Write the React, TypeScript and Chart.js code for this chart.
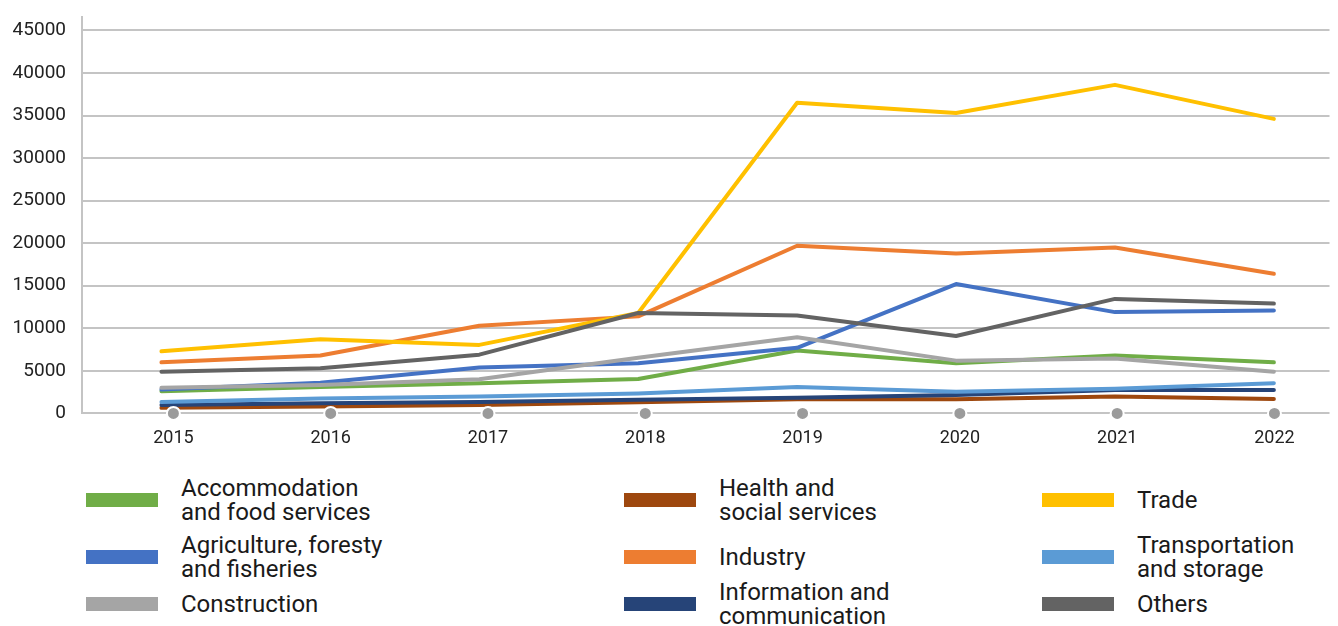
import React, { useEffect, useRef } from "react";
import { Chart, registerables } from "chart.js";

Chart.register(...registerables);

const years = ["2015", "2016", "2017", "2018", "2019", "2020", "2021", "2022"];

const accommodation = [2600, 3100, 3550, 4050, 7400, 5900, 6800, 6000];
const agriculture = [2800, 3600, 5400, 5900, 7700, 15200, 11900, 12100];
const construction = [3000, 3350, 4000, 6550, 8950, 6200, 6450, 4900];
const health = [650, 800, 1000, 1300, 1650, 1650, 2000, 1700];
const industry = [6000, 6800, 10300, 11400, 19700, 18800, 19500, 16400];
const information = [1000, 1200, 1350, 1600, 1850, 2150, 2750, 2750];
const trade = [7300, 8700, 8050, 11800, 36500, 35300, 38600, 34600];
const transportation = [1350, 1750, 1980, 2350, 3100, 2550, 2900, 3550];
const others = [4900, 5300, 6900, 11800, 11500, 9100, 13450, 12900];

const markerValues = [0, 0, 0, 0, 0, 0, 0, 0];

const seriesNames = [
  "Accommodation\nand food services",
  "Agriculture, foresty\nand fisheries",
  "Construction",
  "Health and\nsocial services",
  "Industry",
  "Information and\ncommunication",
  "Trade",
  "Transportation\nand storage",
  "Others",
];

const seriesColors = [
  "#70AD47",
  "#4472C4",
  "#A5A5A5",
  "#9E480E",
  "#ED7D31",
  "#264478",
  "#FFC000",
  "#5B9BD5",
  "#636363",
];

const yTickValues = [0, 5000, 10000, 15000, 20000, 25000, 30000, 35000, 40000, 45000];

const legendColLeft = [86, 624, 1042];
const legendRowCenter = [500, 556.5, 603.5];

export default function App() {
  const ref = useRef<HTMLCanvasElement>(null);

  useEffect(() => {
    const seriesValues = [
      accommodation,
      agriculture,
      construction,
      health,
      industry,
      information,
      trade,
      transportation,
      others,
    ];
    const datasets: any[] = [
      {
        label: "markers",
        data: markerValues.map((v, i) => ({ x: i, y: v })),
        xAxisID: "x2",
        yAxisID: "y",
        showLine: false,
        pointRadius: 6.5,
        pointBorderWidth: 2,
        pointBackgroundColor: "#9b9b9b",
        pointBorderColor: "#ffffff",
        order: -100,
        clip: false,
      },
      ...seriesValues.map((vals, i) => ({
        label: seriesNames[i],
        data: vals.map((v, j) => ({ x: j, y: v })),
        xAxisID: "x",
        yAxisID: "y",
        borderColor: seriesColors[i],
        backgroundColor: seriesColors[i],
        borderWidth: 4,
        pointRadius: 0,
        tension: 0,
        borderCapStyle: "round",
        borderJoinStyle: "round",
        fill: false,
        order: -i,
        clip: false,
      })),
    ];

    const chart = new Chart(ref.current!, {
      type: "line",
      data: { datasets },
      options: {
        animation: false,
        responsive: false,
        maintainAspectRatio: false,
        layout: { padding: { top: 17, left: 0, right: 0, bottom: 0 } },
        plugins: {
          legend: { display: false },
          tooltip: { enabled: false },
        },
        scales: {
          x: {
            type: "linear",
            display: false,
            min: -0.5,
            max: 7.35,
          },
          x2: {
            type: "linear",
            position: "bottom",
            min: -0.581,
            max: 7.35,
            afterBuildTicks: (s: any) => {
              s.ticks = years.map((_, i) => ({ value: i }));
            },
            afterFit: (s: any) => {
              s.height = 46.6;
              s.paddingLeft = 0;
              s.paddingRight = 0;
            },
            ticks: {
              callback: (v: any) => years[Math.round(Number(v))],
              padding: 14,
              autoSkip: false,
              maxRotation: 0,
              color: "#222222",
              font: { family: "Roboto", size: 18 },
            },
            grid: { display: false, drawTicks: false },
            border: { display: false },
          },
          y: {
            type: "linear",
            position: "left",
            min: 0,
            max: 46575,
            afterBuildTicks: (s: any) => {
              s.ticks = yTickValues.map((v) => ({ value: v }));
            },
            afterFit: (s: any) => {
              s.width = 82;
              s.paddingTop = 0;
              s.paddingBottom = 0;
            },
            ticks: {
              callback: (v: any) => String(v),
              padding: 16,
              color: "#222222",
              font: { family: "Roboto", size: 19 },
            },
            grid: { color: "#c4c4c4", lineWidth: 2, drawTicks: false },
            border: { display: true, color: "#c4c4c4", width: 2 },
          },
        },
      } as any,
    });
    return () => chart.destroy();
  }, []);

  return (
    <div
      style={{
        position: "fixed",
        left: 0,
        top: 0,
        width: 1338,
        height: 626,
        background: "#ffffff",
        overflow: "hidden",
      }}
    >
      <canvas
        ref={ref}
        width={1338}
        height={460}
        style={{ position: "absolute", left: 0, top: 0, width: 1338, height: 460 }}
      />
      {seriesNames.map((name, i) => {
        const col = Math.floor(i / 3);
        const row = i % 3;
        return (
          <div
            key={name}
            style={{
              position: "absolute",
              left: legendColLeft[col],
              top: legendRowCenter[row],
              transform: "translateY(-50%)",
              display: "flex",
              alignItems: "center",
            }}
          >
            <div
              style={{
                width: 72,
                height: 14,
                background: seriesColors[i],
                flex: "0 0 auto",
              }}
            />
            <div
              style={{
                marginLeft: 23,
                whiteSpace: "pre-line",
                fontFamily: "Roboto",
                fontSize: 24,
                lineHeight: "24px",
                color: "#1a1a1a",
              }}
            >
              {name}
            </div>
          </div>
        );
      })}
    </div>
  );
}
